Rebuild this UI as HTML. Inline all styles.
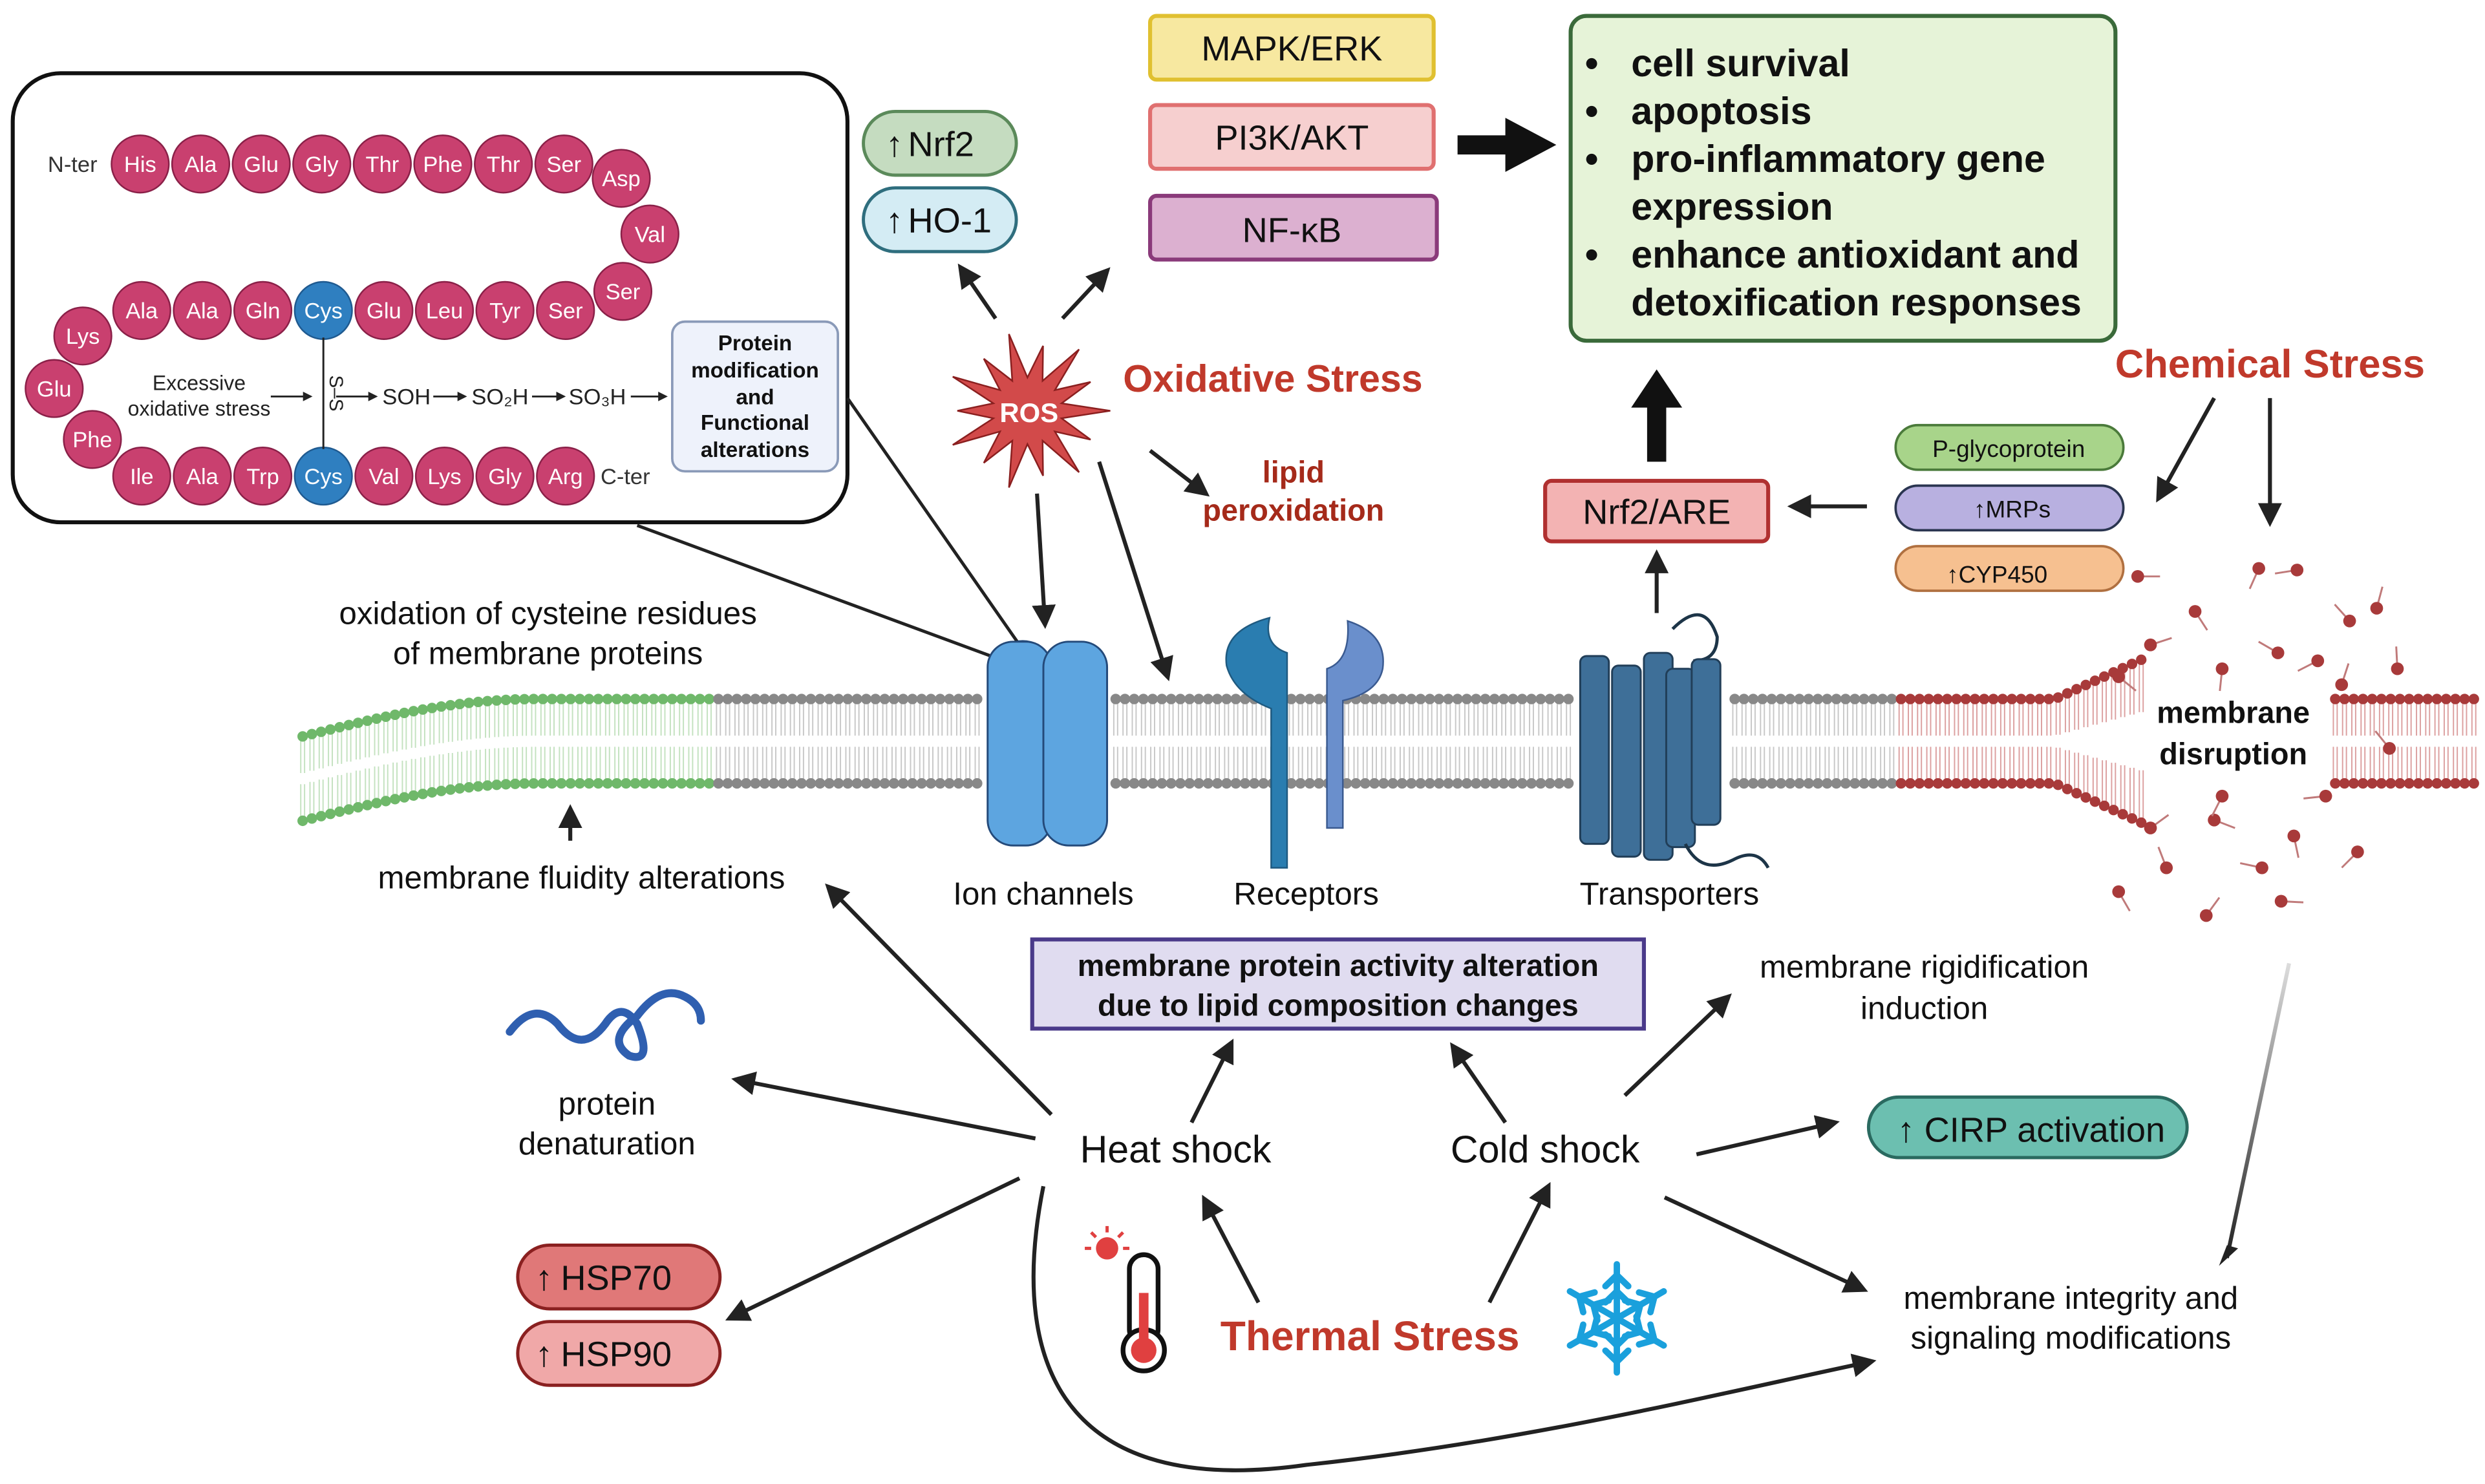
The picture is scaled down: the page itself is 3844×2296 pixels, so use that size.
<!DOCTYPE html>
<html><head><meta charset="utf-8"><style>
html,body{margin:0;padding:0;background:#fff}
svg{display:block}
text{font-family:"Liberation Sans",sans-serif}
</style></head><body>
<svg id="s" xmlns="http://www.w3.org/2000/svg" width="3844" height="2296" viewBox="0 0 1560 932" preserveAspectRatio="none">
<defs>
<marker id="a" viewBox="0 0 10 10" refX="8" refY="5" markerWidth="5" markerHeight="5" orient="auto"><path d="M0,0 L10,5 L0,10 z" fill="#222"/></marker>
<marker id="b" viewBox="0 0 10 10" refX="8" refY="5" markerWidth="6" markerHeight="6" orient="auto"><path d="M0,0 L10,5 L0,10 z" fill="#222"/></marker>
<linearGradient id="g1" x1="0" y1="0" x2="0" y2="1"><stop offset="0" stop-color="#ddd"/><stop offset="1" stop-color="#222"/></linearGradient>
</defs>
<rect width="1560" height="932" fill="#fff"/>
<g id="mem"></g>

<rect x="8" y="46" width="524" height="282" rx="30" fill="#fff" stroke="#111" stroke-width="2.5"/>
<g id="aa" font-size="14" fill="#fff" text-anchor="middle"></g>
<text x="30" y="108" font-size="14" fill="#333">N-ter</text>
<text x="377" y="304" font-size="14" fill="#333">C-ter</text>
<line x1="203" y1="212" x2="203" y2="282" stroke="#222" stroke-width="1.2"/>
<text x="207" y="247" font-size="12" fill="#222" transform="rotate(90 207 247)" text-anchor="middle">S–S</text>
<text x="125" y="245" font-size="13" text-anchor="middle" fill="#222">Excessive</text>
<text x="125" y="261" font-size="13" text-anchor="middle" fill="#222">oxidative stress</text>
<g stroke="#222" stroke-width="1.2" marker-end="url(#a)"><line x1="170" y1="249" x2="195" y2="249"/><line x1="211" y1="249" x2="236" y2="249"/><line x1="272" y1="249" x2="292" y2="249"/><line x1="334" y1="249" x2="354" y2="249"/><line x1="396" y1="249" x2="418" y2="249"/></g>
<text x="240" y="254" font-size="14" fill="#222">SOH</text>
<text x="296" y="254" font-size="14" fill="#222">SO₂H</text>
<text x="357" y="254" font-size="14" fill="#222">SO₃H</text>
<rect x="422" y="202" width="104" height="94" rx="8" fill="#eef2fb" stroke="#8a9ab8" stroke-width="1.5"/>
<g font-size="13.5" font-weight="bold" text-anchor="middle" fill="#111"><text x="474" y="220">Protein</text><text x="474" y="237">modification</text><text x="474" y="254">and</text><text x="474" y="270">Functional</text><text x="474" y="287">alterations</text></g>

<line x1="532" y1="250" x2="640" y2="405" stroke="#222" stroke-width="2"/>
<line x1="400" y1="330" x2="622" y2="412" stroke="#222" stroke-width="2"/>

<path d="M632,405 q10,-5 20,0 v120 q-10,8 -20,0z" fill="#3f80c4" stroke="#244a7a"/>
<rect x="620" y="403" width="40" height="128" rx="16" fill="#5da5e0" stroke="#244a7a" stroke-width="1.2"/>
<rect x="655" y="403" width="40" height="128" rx="16" fill="#5da5e0" stroke="#244a7a" stroke-width="1.2"/>
<path d="M797,388 q-30,8 -27,30 q5,18 28,27 v100 h10 v-135 q-15,-5 -11,-22z" fill="#2a7db0" stroke="#1f5a80"/>
<path d="M846,390 q25,8 22,30 q-3,15 -25,20 v80 h-10 v-100 q15,-5 13,-30z" fill="#6a8fcc" stroke="#3a5a90"/>
<g fill="#3e6f98" stroke="#213e58" stroke-width="1.2">
<path d="M1050,395 q20,-20 28,5 q0,15 -15,15" fill="none" stroke="#1d3548" stroke-width="2"/>
<rect x="992" y="412" width="18" height="118" rx="4"/><rect x="1012" y="418" width="18" height="120" rx="4"/><rect x="1032" y="410" width="18" height="130" rx="4"/><rect x="1046" y="420" width="18" height="112" rx="4"/><rect x="1062" y="414" width="18" height="104" rx="4"/>
<path d="M1058,530 q10,20 30,10 q15,-8 22,5" fill="none" stroke="#1d3548" stroke-width="2"/>
</g>

<polygon id="star" fill="#d24a4a" stroke="#8a1f1f" stroke-width="1"/>
<text x="646" y="265" font-size="17" font-weight="bold" fill="#fff" text-anchor="middle">ROS</text>
<text x="705" y="246" font-size="24" font-weight="bold" fill="#c0392b">Oxidative Stress</text>
<text x="812" y="303" font-size="19" font-weight="bold" fill="#a52a1a" text-anchor="middle">lipid</text>
<text x="812" y="327" font-size="19" font-weight="bold" fill="#a52a1a" text-anchor="middle">peroxidation</text>

<rect x="542" y="70" width="96" height="40" rx="20" fill="#c5dcc0" stroke="#5b8a5a" stroke-width="2"/>
<text x="570" y="98" font-size="22" fill="#111">Nrf2</text><text x="556" y="98" font-size="22" fill="#111">↑</text>
<rect x="542" y="118" width="96" height="40" rx="20" fill="#d4ecf4" stroke="#2f6e7e" stroke-width="2"/>
<text x="570" y="146" font-size="22" fill="#111">HO-1</text><text x="556" y="146" font-size="22" fill="#111">↑</text>

<rect x="722" y="10" width="178" height="40" rx="4" fill="#f7e8a0" stroke="#e0c030" stroke-width="2.5"/>
<text x="811" y="38" font-size="22" text-anchor="middle" fill="#111">MAPK/ERK</text>
<rect x="722" y="66" width="178" height="40" rx="4" fill="#f6cfcf" stroke="#e07070" stroke-width="2.5"/>
<text x="811" y="94" font-size="22" text-anchor="middle" fill="#111">PI3K/AKT</text>
<rect x="722" y="123" width="180" height="40" rx="4" fill="#dcb0d0" stroke="#8a3a7a" stroke-width="2.5"/>
<text x="811" y="152" font-size="22" text-anchor="middle" fill="#111">NF-κB</text>
<polygon points="915,85 945,85 945,74 977,91 945,108 945,97 915,97" fill="#111"/>
<rect x="986" y="10" width="342" height="204" rx="10" fill="#e6f3d8" stroke="#3a6a3a" stroke-width="2.5"/>
<g font-size="24" font-weight="bold" fill="#111">
<text x="995" y="48">•</text><text x="1024" y="48">cell survival</text>
<text x="995" y="78">•</text><text x="1024" y="78">apoptosis</text>
<text x="995" y="108">•</text><text x="1024" y="108">pro-inflammatory gene</text>
<text x="1024" y="138">expression</text>
<text x="995" y="168">•</text><text x="1024" y="168">enhance antioxidant and</text>
<text x="1024" y="198">detoxification responses</text></g>
<polygon points="1034,290 1034,256 1024,256 1040,232 1056,256 1046,256 1046,290" fill="#111"/>

<text x="1425" y="237" font-size="25" font-weight="bold" fill="#c0392b" text-anchor="middle">Chemical Stress</text>
<rect x="970" y="302" width="140" height="38" rx="4" fill="#f3b3b3" stroke="#b03030" stroke-width="2.5"/>
<text x="1040" y="329" font-size="22" text-anchor="middle" fill="#111">Nrf2/ARE</text>
<rect x="1190" y="267" width="143" height="28" rx="14" fill="#a8d48a" stroke="#4a7a3a" stroke-width="1.5"/>
<text x="1261" y="287" font-size="15" text-anchor="middle" fill="#111">P-glycoprotein</text>
<rect x="1190" y="305" width="143" height="28" rx="14" fill="#b8b0e0" stroke="#2a3550" stroke-width="1.5"/>
<text x="1239" y="325" font-size="15" fill="#111">↑MRPs</text>
<rect x="1190" y="343" width="143" height="28" rx="14" fill="#f6c090" stroke="#b07040" stroke-width="1.5"/>
<text x="1222" y="366" font-size="15" fill="#111">↑CYP450</text>

<g font-size="20" fill="#111" text-anchor="middle">
<text x="344" y="392">oxidation of cysteine residues</text>
<text x="344" y="417">of membrane proteins</text>
<text x="365" y="558">membrane fluidity alterations</text>
<text x="655" y="568">Ion channels</text>
<text x="820" y="568">Receptors</text>
<text x="1048" y="568">Transporters</text>
<text x="1208" y="614">membrane rigidification</text>
<text x="1208" y="640">induction</text>
<text x="381" y="700">protein</text>
<text x="381" y="725">denaturation</text>
<text x="1300" y="822">membrane integrity and</text>
<text x="1300" y="847">signaling modifications</text>
</g>
<g font-size="19" font-weight="bold" fill="#111" text-anchor="middle"><text x="1402" y="454">membrane</text><text x="1402" y="480">disruption</text></g>
<rect x="648" y="590" width="384" height="56" fill="#e0dcf0" stroke="#4a3a8a" stroke-width="2.5"/>
<g font-size="19" font-weight="bold" fill="#111" text-anchor="middle"><text x="840" y="613">membrane protein activity alteration</text><text x="840" y="638">due to lipid composition changes</text></g>
<rect x="1173" y="689" width="200" height="38" rx="19" fill="#6cbfb0" stroke="#2a6a60" stroke-width="2"/>
<text x="1208" y="717" font-size="22" fill="#111">CIRP activation</text><text x="1191" y="717" font-size="22" fill="#111">↑</text>
<text x="738" y="730" font-size="24" text-anchor="middle" fill="#111">Heat shock</text>
<text x="970" y="730" font-size="24" text-anchor="middle" fill="#111">Cold shock</text>
<text x="860" y="848" font-size="26" font-weight="bold" fill="#c0392b" text-anchor="middle">Thermal Stress</text>
<rect x="325" y="782" width="127" height="40" rx="20" fill="#e07878" stroke="#8a2020" stroke-width="2"/>
<text x="352" y="810" font-size="22" fill="#111">HSP70</text><text x="336" y="810" font-size="22" fill="#111">↑</text>
<rect x="325" y="830" width="127" height="40" rx="20" fill="#f0a8a8" stroke="#8a2020" stroke-width="2"/>
<text x="352" y="858" font-size="22" fill="#111">HSP90</text><text x="336" y="858" font-size="22" fill="#111">↑</text>

<path d="M320,648 q15,-20 30,-5 q15,20 30,0 q10,-15 20,0 q10,25 -5,20 q-15,-10 5,-25 q15,-20 30,-12 q10,5 10,15" fill="none" stroke="#2f5fb0" stroke-width="5" stroke-linecap="round"/>
<circle cx="695" cy="784" r="7" fill="#e04040"/>
<g stroke="#e04040" stroke-width="2"><line x1="695" y1="770" x2="695" y2="774"/><line x1="681" y1="784" x2="685" y2="784"/><line x1="709" y1="784" x2="705" y2="784"/><line x1="685" y1="774" x2="688" y2="777"/><line x1="705" y1="774" x2="702" y2="777"/></g>
<rect x="709" y="788" width="18" height="56" rx="9" fill="#fff" stroke="#111" stroke-width="3"/>
<circle cx="718" cy="848" r="13" fill="#fff" stroke="#111" stroke-width="3"/>
<circle cx="718" cy="848" r="8" fill="#e04040"/><rect x="715" y="812" width="6" height="36" fill="#e04040"/>
<g stroke="#1aa0dc" stroke-width="4" stroke-linecap="round" fill="none" id="snow"></g>

<g stroke="#222" stroke-width="2.5" fill="none" marker-end="url(#b)">
<line x1="625" y1="200" x2="603" y2="168"/>
<line x1="667" y1="200" x2="695" y2="170"/>
<line x1="651" y1="310" x2="656" y2="392"/>
<line x1="690" y1="290" x2="733" y2="425"/>
<line x1="722" y1="283" x2="757" y2="310"/>
<line x1="1040" y1="385" x2="1040" y2="348"/>
<line x1="1172" y1="318" x2="1125" y2="318"/>
<line x1="1390" y1="250" x2="1355" y2="313"/>
<line x1="1425" y1="250" x2="1425" y2="328"/>
<line x1="358" y1="528" x2="358" y2="508"/>
<line x1="660" y1="700" x2="520" y2="557"/>
<line x1="650" y1="715" x2="462" y2="678"/>
<line x1="640" y1="740" x2="458" y2="828"/>
<line x1="748" y1="705" x2="773" y2="655"/>
<line x1="945" y1="705" x2="912" y2="657"/>
<line x1="1020" y1="688" x2="1085" y2="626"/>
<line x1="1065" y1="725" x2="1152" y2="705"/>
<line x1="1045" y1="752" x2="1170" y2="810"/>
<line x1="790" y1="818" x2="756" y2="753"/>
<line x1="935" y1="818" x2="972" y2="745"/>
<path d="M655,745 C630,870 680,940 820,920 C960,905 1080,875 1175,855"/>
</g>
<line x1="1437" y1="605" x2="1398" y2="790" stroke="url(#g1)" stroke-width="2.5"/>
<polygon points="1393,795 1398,782 1405,784" fill="#222"/>
</svg>
<script>
var NS="http://www.w3.org/2000/svg",s=document.getElementById('s');
function el(p,t,a){var e=document.createElementNS(NS,t);for(var k in a)e.setAttribute(k,a[k]);p.appendChild(e);return e;}
var m=document.getElementById('mem');
function green(x){ if(x<450){ var t=Math.min(1,(x-188)/150); return 24*(1-Math.sin(t*Math.PI/2));} return 0;}
function spread(x){ if(x>1290&&x<1345){return ((x-1290)/55)*25;} return 0;}
for(var x=190;x<1555;x+=5.8){
 var c,tc;
 if(x<450){c='#6fb86a';tc='#c4e2c0';}else if(x<1190){c='#888';tc='#c8c8c8';}else{c='#a83a3a';tc='#dca0a0';}
 if((x>615&&x<700)||(x>985&&x<1085))continue;
 if(x>1345&&x<1465)continue;
 var g=green(x),sp=spread(x);
 var t1=441+g-sp,t2=462+g-sp*0.6,b1=469+g+sp*0.6,b2=490+g+sp;
 el(m,'line',{x1:x-1.2,y1:t1,x2:x-1.2,y2:t2,stroke:tc,'stroke-width':0.8});
 el(m,'line',{x1:x+1.2,y1:t1,x2:x+1.2,y2:t2,stroke:tc,'stroke-width':0.8});
 el(m,'line',{x1:x-1.2,y1:b1,x2:x-1.2,y2:b2,stroke:tc,'stroke-width':0.8});
 el(m,'line',{x1:x+1.2,y1:b1,x2:x+1.2,y2:b2,stroke:tc,'stroke-width':0.8});
 el(m,'circle',{cx:x,cy:t1-2,r:3.3,fill:c});
 el(m,'circle',{cx:x,cy:b2+2,r:3.3,fill:c});
}
var pts=[[1342,362],[1378,384],[1418,357],[1442,358],[1475,390],[1492,382],[1350,405],[1330,425],[1395,420],[1455,415],[1430,410],[1505,420],[1350,520],[1390,515],[1440,525],[1480,535],[1420,545],[1360,545],[1385,575],[1432,566],[1330,560],[1395,500],[1460,500],[1500,470],[1470,430]];
pts.forEach(function(p,i){var a=(i*57)%360*Math.PI/180;el(m,'line',{x1:p[0],y1:p[1],x2:p[0]+14*Math.cos(a),y2:p[1]+14*Math.sin(a),stroke:'#c07a7a','stroke-width':1.2});el(m,'circle',{cx:p[0],cy:p[1],r:4,fill:'#a83a3a'});});
var aa=document.getElementById('aa');
var L=[['His',88,103],['Ala',126,103],['Glu',164,103],['Gly',202,103],['Thr',240,103],['Phe',278,103],['Thr',316,103],['Ser',354,103],['Asp',390,112],['Val',408,147],['Ser',391,183],
['Ala',89,195],['Ala',127,195],['Gln',165,195],['Cys',203,195,1],['Glu',241,195],['Leu',279,195],['Tyr',317,195],['Ser',355,195],
['Lys',52,211],['Glu',34,244],['Phe',58,276],
['Ile',89,299],['Ala',127,299],['Trp',165,299],['Cys',203,299,1],['Val',241,299],['Lys',279,299],['Gly',317,299],['Arg',355,299]];
L.forEach(function(q){el(aa,'circle',{cx:q[1],cy:q[2],r:18,fill:q[3]?'#2f7fc0':'#c9406f',stroke:q[3]?'#1f5a90':'#8a2048','stroke-width':1});var t=el(aa,'text',{x:q[1],y:q[2]+5});t.textContent=q[0];});
var st=[],cx=645,cy=258;for(var i=0;i<28;i++){var r=i%2?22:(i%4?44:52);var a=i*Math.PI/14;st.push((cx+r*Math.cos(a)).toFixed(1)+','+(cy+r*Math.sin(a)*0.95).toFixed(1));}
document.getElementById('star').setAttribute('points',st.join(' '));
var sn=document.getElementById('snow'),sx=1015,sy=828;
for(var k=0;k<6;k++){var a=k*Math.PI/3+Math.PI/2,ex=sx+34*Math.cos(a),ey=sy+34*Math.sin(a);el(sn,'line',{x1:sx,y1:sy,x2:ex,y2:ey});
 [0.5,0.8].forEach(function(f){var bx=sx+34*f*Math.cos(a),by=sy+34*f*Math.sin(a);[-1,1].forEach(function(d){var b=a+d*0.8;el(sn,'line',{x1:bx,y1:by,x2:bx-10*Math.cos(b),y2:by-10*Math.sin(b)});});});}
</script>
</body></html>
